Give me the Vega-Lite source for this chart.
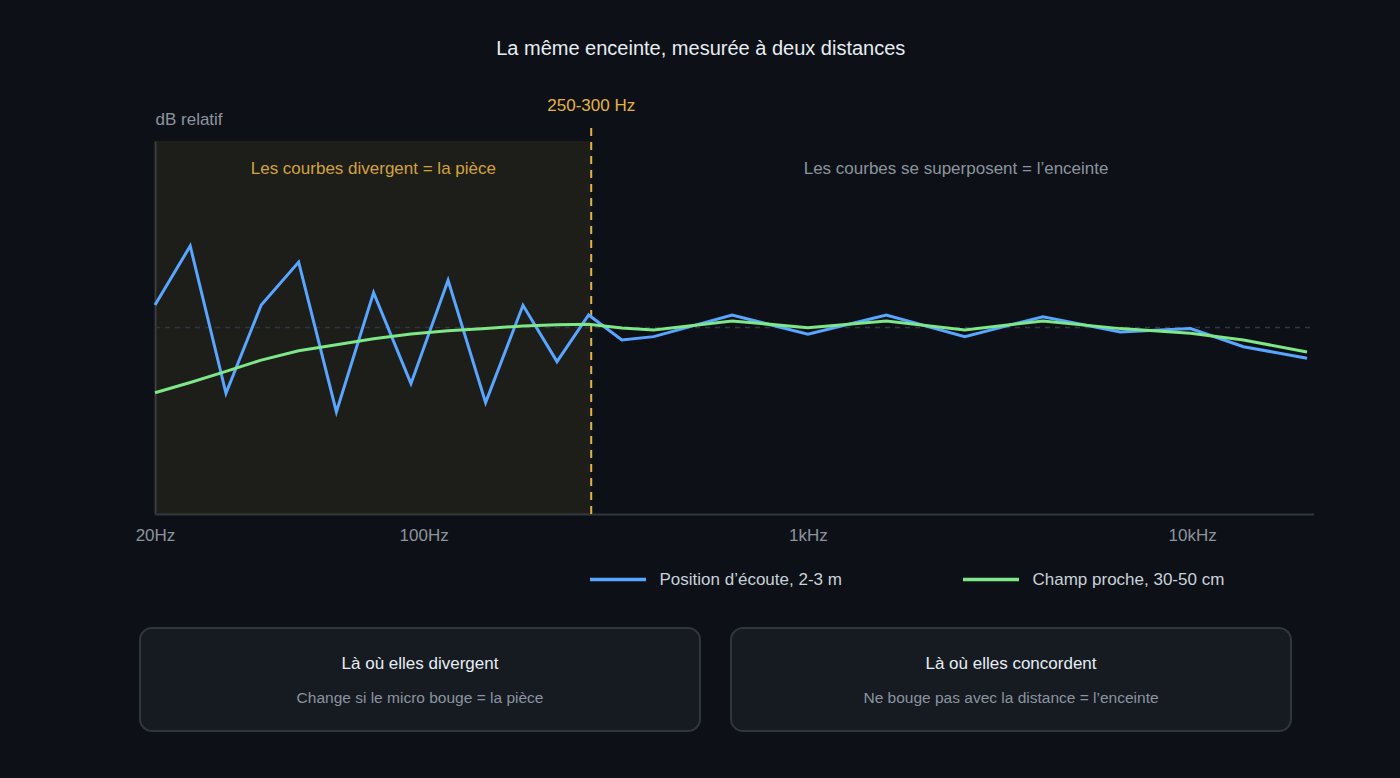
{
  "$schema": "https://vega.github.io/schema/vega-lite/v6.json",
  "background": "#0d1117",
  "padding": {"left": 135, "top": 38, "right": 87, "bottom": 46},
  "title": {
    "text": "La même enceinte, mesurée à deux distances",
    "color": "#e6edf3",
    "fontSize": 20,
    "fontWeight": "normal",
    "font": "Liberation Sans",
    "anchor": "middle",
    "dx": -24,
    "offset": 38
  },
  "config": {
    "font": "Liberation Sans",
    "view": {"stroke": null}
  },
  "spacing": 84,
  "vconcat": [
    {
      "width": 1173.6,
      "height": 373,
      "encoding": {
        "x": {
          "field": "f",
          "type": "quantitative",
          "scale": {"type": "log", "domain": [20, 20700], "range": [15, 1173.6]},
          "axis": {
            "title": null,
            "values": [20, 100, 1000, 10000],
            "labelExpr": "datum.value >= 1000 ? (datum.value / 1000) + 'kHz' : datum.value + 'Hz'",
            "labelFlush": false,
            "grid": false,
            "ticks": false,
            "tickSize": 0,
            "labelPadding": 13,
            "labelFontSize": 17,
            "labelColor": "#8b949e",
            "domainColor": "#30363d",
            "domainWidth": 2
          }
        },
        "y": {
          "field": "db",
          "type": "quantitative",
          "scale": {"domain": [-10, 10]},
          "axis": {
            "title": "dB relatif",
            "offset": -15,
            "labels": false,
            "ticks": false,
            "tickSize": 0,
            "grid": false,
            "domainColor": "#30363d",
            "domainWidth": 2,
            "minExtent": 0,
            "titleAngle": 0,
            "titleX": 0,
            "titleY": -22,
            "titleAlign": "left",
            "titleBaseline": "middle",
            "titleColor": "#8b949e",
            "titleFontSize": 17,
            "titleFontWeight": "normal"
          }
        }
      },
      "layer": [
        {
          "data": {"values": [{"f": 20, "f2": 273, "db": -10, "db2": 10}]},
          "mark": {"type": "rect", "fill": "#e3b341", "fillOpacity": 0.08},
          "encoding": {"x2": {"field": "f2"}, "y2": {"field": "db2"}}
        },
        {
          "data": {"values": [{"f": 20, "f2": 20700, "db": 0}]},
          "mark": {"type": "rule", "color": "#30363d", "strokeWidth": 1.5, "strokeDash": [5, 5]},
          "encoding": {"x2": {"field": "f2"}}
        },
        {
          "data": {"values": [{"f": 273, "db": -10, "db2": 11}]},
          "mark": {"type": "rule", "color": "#e3b341", "strokeWidth": 2, "strokeDash": [8, 6]},
          "encoding": {"y2": {"field": "db2"}}
        },
        {
          "data": {
            "values": [
              {"serie": "Position d’écoute, 2-3 m", "f": 20, "db": 1.21},
              {"serie": "Position d’écoute, 2-3 m", "f": 24.7, "db": 4.37},
              {"serie": "Position d’écoute, 2-3 m", "f": 30.6, "db": -3.53},
              {"serie": "Position d’écoute, 2-3 m", "f": 37.8, "db": 1.21},
              {"serie": "Position d’écoute, 2-3 m", "f": 47.3, "db": 3.51},
              {"serie": "Position d’écoute, 2-3 m", "f": 59.3, "db": -4.53},
              {"serie": "Position d’écoute, 2-3 m", "f": 74.1, "db": 1.87},
              {"serie": "Position d’écoute, 2-3 m", "f": 92.7, "db": -3.01},
              {"serie": "Position d’écoute, 2-3 m", "f": 115.8, "db": 2.53},
              {"serie": "Position d’écoute, 2-3 m", "f": 145, "db": -4.03},
              {"serie": "Position d’écoute, 2-3 m", "f": 181.4, "db": 1.19},
              {"serie": "Position d’écoute, 2-3 m", "f": 222.4, "db": -1.83},
              {"serie": "Position d’écoute, 2-3 m", "f": 268.8, "db": 0.67},
              {"serie": "Position d’écoute, 2-3 m", "f": 328, "db": -0.67},
              {"serie": "Position d’écoute, 2-3 m", "f": 397, "db": -0.49},
              {"serie": "Position d’écoute, 2-3 m", "f": 635, "db": 0.67},
              {"serie": "Position d’écoute, 2-3 m", "f": 1000, "db": -0.36},
              {"serie": "Position d’écoute, 2-3 m", "f": 1600, "db": 0.67},
              {"serie": "Position d’écoute, 2-3 m", "f": 2560, "db": -0.49},
              {"serie": "Position d’écoute, 2-3 m", "f": 4090, "db": 0.58},
              {"serie": "Position d’écoute, 2-3 m", "f": 6500, "db": -0.24},
              {"serie": "Position d’écoute, 2-3 m", "f": 9900, "db": -0.06},
              {"serie": "Position d’écoute, 2-3 m", "f": 13600, "db": -1.03},
              {"serie": "Position d’écoute, 2-3 m", "f": 19900, "db": -1.65},
              {"serie": "Champ proche, 30-50 cm", "f": 20, "db": -3.5},
              {"serie": "Champ proche, 30-50 cm", "f": 24.7, "db": -2.95},
              {"serie": "Champ proche, 30-50 cm", "f": 30.6, "db": -2.35},
              {"serie": "Champ proche, 30-50 cm", "f": 37.8, "db": -1.75},
              {"serie": "Champ proche, 30-50 cm", "f": 47.3, "db": -1.25},
              {"serie": "Champ proche, 30-50 cm", "f": 59.3, "db": -0.92},
              {"serie": "Champ proche, 30-50 cm", "f": 74.1, "db": -0.6},
              {"serie": "Champ proche, 30-50 cm", "f": 92.7, "db": -0.35},
              {"serie": "Champ proche, 30-50 cm", "f": 115.8, "db": -0.17},
              {"serie": "Champ proche, 30-50 cm", "f": 145, "db": -0.05},
              {"serie": "Champ proche, 30-50 cm", "f": 181.4, "db": 0.08},
              {"serie": "Champ proche, 30-50 cm", "f": 222.4, "db": 0.15},
              {"serie": "Champ proche, 30-50 cm", "f": 268.8, "db": 0.17},
              {"serie": "Champ proche, 30-50 cm", "f": 328, "db": -0.03},
              {"serie": "Champ proche, 30-50 cm", "f": 397, "db": -0.13},
              {"serie": "Champ proche, 30-50 cm", "f": 635, "db": 0.35},
              {"serie": "Champ proche, 30-50 cm", "f": 1000, "db": -0.01},
              {"serie": "Champ proche, 30-50 cm", "f": 1600, "db": 0.35},
              {"serie": "Champ proche, 30-50 cm", "f": 2560, "db": -0.13},
              {"serie": "Champ proche, 30-50 cm", "f": 4090, "db": 0.35},
              {"serie": "Champ proche, 30-50 cm", "f": 6500, "db": -0.06},
              {"serie": "Champ proche, 30-50 cm", "f": 9900, "db": -0.31},
              {"serie": "Champ proche, 30-50 cm", "f": 13600, "db": -0.67},
              {"serie": "Champ proche, 30-50 cm", "f": 19900, "db": -1.31}
            ]
          },
          "mark": {"type": "line", "strokeWidth": 3},
          "encoding": {
            "color": {
              "field": "serie",
              "type": "nominal",
              "sort": null,
              "scale": {
                "domain": ["Position d’écoute, 2-3 m", "Champ proche, 30-50 cm"],
                "range": ["#58a6ff", "#7ee787"]
              },
              "legend": {
                "orient": "none",
                "legendX": 448,
                "legendY": 408.5,
                "direction": "horizontal",
                "title": null,
                "symbolType": "stroke",
                "symbolSize": 3136,
                "symbolStrokeWidth": 3.5,
                "labelFontSize": 17,
                "labelColor": "#c9d1d9",
                "labelLimit": 400,
                "labelOffset": 11.5,
                "columnPadding": 114,
                "padding": 0
              }
            }
          }
        },
        {
          "data": {"values": [{"f": 74, "db": 8.5, "texte": "Les courbes divergent = la pièce"}]},
          "mark": {"type": "text", "fontSize": 17, "color": "#e3b341", "opacity": 0.9},
          "encoding": {"text": {"field": "texte"}}
        },
        {
          "data": {"values": [{"f": 2430, "db": 8.5, "texte": "Les courbes se superposent = l’enceinte"}]},
          "mark": {"type": "text", "fontSize": 17, "color": "#8b949e"},
          "encoding": {"text": {"field": "texte"}}
        },
        {
          "data": {"values": [{"f": 273, "db": 11.9, "texte": "250-300 Hz"}]},
          "mark": {"type": "text", "fontSize": 17, "color": "#e3b341"},
          "encoding": {"text": {"field": "texte"}}
        }
      ]
    },
    {
      "width": 1151,
      "height": 103,
      "data": {
        "values": [
          {"carte": "A", "ligne": "titre", "libelle": "Là où elles divergent"},
          {"carte": "A", "ligne": "texte", "libelle": "Change si le micro bouge = la pièce"},
          {"carte": "B", "ligne": "titre", "libelle": "Là où elles concordent"},
          {"carte": "B", "ligne": "texte", "libelle": "Ne bouge pas avec la distance = l’enceinte"}
        ]
      },
      "encoding": {
        "x": {
          "field": "carte",
          "type": "nominal",
          "scale": {"paddingInner": 0.05245, "paddingOuter": 0},
          "axis": null
        }
      },
      "layer": [
        {
          "transform": [{"filter": "datum.ligne === 'titre'"}],
          "mark": {"type": "rect", "cornerRadius": 12, "fill": "#161b22", "stroke": "#30363d", "strokeWidth": 2}
        },
        {
          "transform": [{"filter": "datum.ligne === 'titre'"}],
          "mark": {"type": "text", "fontSize": 17, "color": "#e6edf3", "dy": 2},
          "encoding": {
            "y": {
              "field": "ligne",
              "type": "nominal",
              "scale": {"domain": ["titre", "texte"], "type": "point", "padding": 0.9714},
              "axis": null
            },
            "text": {"field": "libelle"}
          }
        },
        {
          "transform": [{"filter": "datum.ligne === 'texte'"}],
          "mark": {"type": "text", "fontSize": 15.5, "color": "#8b949e", "dy": 1},
          "encoding": {
            "y": {
              "field": "ligne",
              "type": "nominal",
              "scale": {"domain": ["titre", "texte"], "type": "point", "padding": 0.9714},
              "axis": null
            },
            "text": {"field": "libelle"}
          }
        }
      ]
    }
  ]
}
